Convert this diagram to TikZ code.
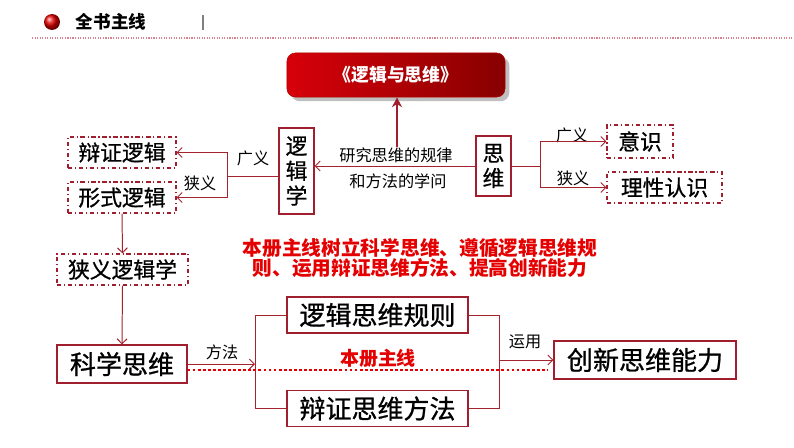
\documentclass[tikz,border=0pt]{standalone}
\usepackage{fontspec}
\setmainfont{Noto Sans CJK SC}
\newfontfamily\boxfont[FakeBold=0.8]{Noto Sans CJK SC}
\usetikzlibrary{arrows.meta,shadows}

\definecolor{boxred}{RGB}{160,30,45}
\definecolor{linered}{RGB}{165,35,45}
\definecolor{brightred}{RGB}{228,0,0}
\definecolor{titlered}{RGB}{215,0,10}
\definecolor{titledark}{RGB}{135,0,0}
\definecolor{dotpink}{RGB}{215,130,140}

\begin{document}
\begin{tikzpicture}[x=0.025cm,y=-0.025cm,
    >={Straight Barb[length=3.5pt,width=7pt]},
    solidbox/.style={draw=boxred,thick,fill=white,inner sep=0pt},
    dashbox/.style={draw=boxred,thick,dash dot,inner sep=0pt},
    conn/.style={draw=linered,line width=0.7pt},
    lbl/.style={font=\fontsize{11.5}{12}\selectfont,inner sep=0pt},
    txtmid/.style={font=\boxfont\fontsize{15.5}{17.7}\selectfont,align=center},
    txtbig/.style={font=\boxfont\fontsize{18.5}{20}\selectfont}]
    \useasboundingbox (0,0) rectangle (794,447);

    % header
    \shade[ball color=red!90!black] (52,22) circle (8);
    \node (head) at (111,22) {\fontsize{12.5}{13}\selectfont\bfseries 全书主线};
    \draw[gray,line width=0.8pt] (203,15) -- (203,30);
    \draw[dotpink,densely dotted,line width=0.8pt] (32,38) -- (794,38);

    \node[draw=red!70!black,rounded corners=6pt,left color=titlered,right color=titledark,
          drop shadow={shadow xshift=3pt,shadow yshift=-3pt,opacity=0.5},
          minimum width=5.45cm,minimum height=1.1cm,text=white,
          font=\fontsize{12.7}{13}\selectfont\bfseries] (title) at (396,75) {《逻辑与思维》};

    \begin{scope}[every node/.style={solidbox,txtmid}]
        \node[minimum width=0.875cm,minimum height=2.15cm] (ljx) at (296.5,171) {逻\\辑\\学};
        \node[minimum width=0.875cm,minimum height=1.5cm] (sw) at (493.5,166) {思\\维};
        \node[minimum width=3.25cm,minimum height=0.95cm,txtbig] (kx) at (122,364) {科学思维};
        \node[minimum width=4.525cm,minimum height=0.9cm,txtbig] (lg) at (377.5,315) {逻辑思维规则};
        \node[minimum width=4.525cm,minimum height=0.92cm,txtbig] (bf) at (377.5,408.5) {辩证思维方法};
        \node[minimum width=4.55cm,minimum height=0.95cm,txtbig] (cx) at (645,360) {创新思维能力};
    \end{scope}

    \begin{scope}[every node/.style={dashbox,txtmid}]
        \node[minimum width=2.7cm,minimum height=0.775cm] (bz) at (122,152.5) {辩证逻辑};
        \node[minimum width=2.7cm,minimum height=0.775cm] (xs) at (122,197.5) {形式逻辑};
        \node[minimum width=3.275cm,minimum height=0.775cm] (xy) at (122.5,269.5) {狭义逻辑学};
        \node[minimum width=1.65cm,minimum height=0.825cm] (ys) at (640,141.5) {意识};
        \node[minimum width=2.875cm,minimum height=0.775cm] (lx) at (664.5,187.5) {理性认识};
    \end{scope}

    \begin{scope}[every node/.style={lbl}]
        \node (yj1) at (396,155) {研究思维的规律};
        \node (yj2) at (398,181) {和方法的学问};
        \node (gy1) at (253,158) {广义};
        \node (xy1) at (200,183) {狭义};
        \node (gy2) at (572,135) {广义};
        \node (xy2) at (573,178) {狭义};
        \node (ff) at (222,352) {方法};
        \node (yy) at (525,342) {运用};
    \end{scope}

    \node[text=brightred,align=center,font=\fontsize{14}{14.4}\selectfont\bfseries] (zx) at (420,258)
        {本册主线树立科学思维、遵循逻辑思维规\\则、运用辩证思维方法、提高创新能力};
    \node[text=brightred,font=\fontsize{13.5}{14}\selectfont\bfseries] (bc) at (378,358) {本册主线};

    \coordinate (lb) at (227,176);
    \coordinate (rb) at (540,166);
    \coordinate (kb) at (255,364);
    \coordinate (cb) at (499,360);
    \coordinate (up) at (397,147);
    \coordinate (dotend) at (548,370);

    \begin{scope}[every path/.style={conn}]
        \draw[->] (sw.west) -- (ljx.east |- sw.west);
        \draw (ljx.west |- lb) -- (lb);
        \draw[->] (lb) |- (bz.east);
        \draw[->] (lb) |- (xs.east);
        \draw[->] (xs.south) -- (xy.north);
        \draw[->] (xy.south) -- (kx.north);
        \draw (sw.east) -- (rb);
        \draw[->] (rb) |- (ys.west);
        \draw[->] (rb) |- (lx.west);
        \draw[->] (kx.east) -- (kb);
        \draw (kb) |- (lg.west);
        \draw (kb) |- (bf.west);
        \draw (lg.east) -| (cb);
        \draw (bf.east) -| (cb);
        \draw[->] (cb) -- (cx.west);
    \end{scope}

    \draw[draw=boxred,line width=1.6pt,-{Stealth[length=7pt,width=7pt]}] (up) -- (up |- title.south);
    \draw[brightred,line width=2pt,dash pattern=on 2pt off 1.6pt] (kx.east |- dotend) -- (dotend);
\end{tikzpicture}
\end{document}
